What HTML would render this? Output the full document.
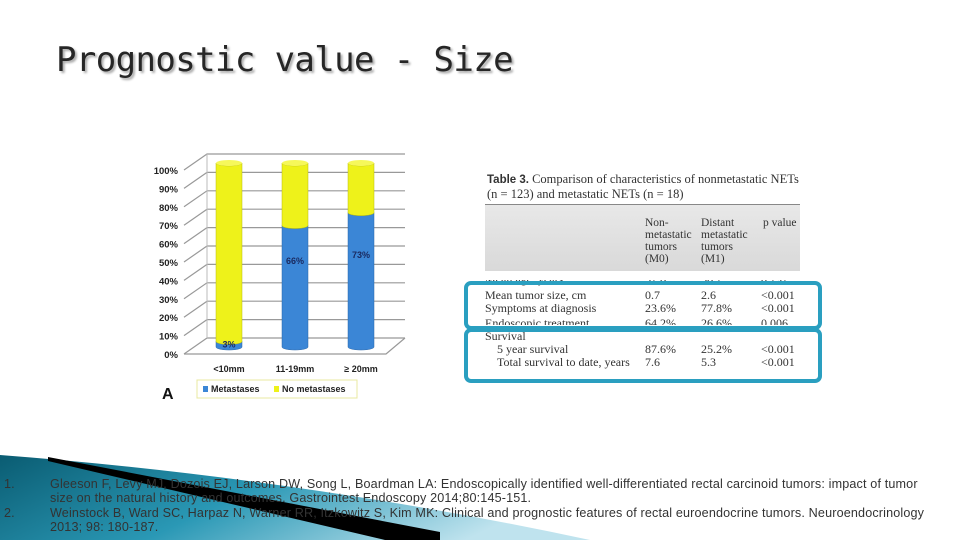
<!DOCTYPE html>
<html><head><meta charset="utf-8">
<style>
html,body{margin:0;padding:0;background:#fff;}
#slide{position:relative;width:960px;height:540px;overflow:hidden;background:#fff;font-family:"Liberation Sans",sans-serif;}
#title{position:absolute;left:56px;top:40px;font-family:"DejaVu Sans Mono",monospace;font-size:34px;color:#262626;text-shadow:2px 2px 2px #aaa;letter-spacing:-0.6px;}
.ref{position:absolute;font-size:12.6px;color:#333;white-space:nowrap;letter-spacing:0.15px;}
.row{position:absolute;left:0;width:315px;font-size:12px;line-height:13px;white-space:nowrap;overflow:hidden;}
.row span{position:absolute;}
.c1{left:160px}.c2{left:216px}.c3{left:276px}
</style></head>
<body>
<div id="slide">
<svg width="960" height="540" style="position:absolute;left:0;top:0">
<defs><linearGradient id="tg" x1="0" y1="0" x2="1" y2="0.3"><stop offset="0" stop-color="#0a5c72"/><stop offset="0.5" stop-color="#2a98b5"/><stop offset="1" stop-color="#bfe3ee"/></linearGradient></defs>
<path d="M0,455 Q300,478 590,540 L0,540 Z" fill="url(#tg)"/>
<path d="M48,457 L440,532 L440,540 L385,540 L48,461 Z" fill="#000"/>
</svg>
<div id="title">Prognostic value - Size</div>

<svg id="chart" width="960" height="540" style="position:absolute;left:0;top:0"></svg>

<div style="position:absolute;left:485px;top:168px;width:315px;height:212px;background:#fff;font-family:'Liberation Serif',serif;color:#333;">
 <div style="position:absolute;left:2px;top:4px;font-size:12.5px;line-height:14px;white-space:nowrap;"><b style="font-family:'Liberation Sans',sans-serif;font-size:11.5px">Table 3.</b> Comparison of characteristics of nonmetastatic NETs<br>(n = 123) and metastatic NETs (n = 18)</div>
 <div style="position:absolute;left:0;top:36px;width:315px;height:66px;background:linear-gradient(#e8e8e8,#d9d9d9);border-top:1px solid #888;">
  <div style="position:absolute;left:160px;top:12px;font-size:11.5px;line-height:12px">Non-<br>metastatic<br>tumors<br>(M0)</div>
  <div style="position:absolute;left:216px;top:12px;font-size:11.5px;line-height:12px">Distant<br>metastatic<br>tumors<br>(M1)</div>
  <div style="position:absolute;left:278px;top:12px;font-size:11.5px;line-height:12px">p value</div>
 </div>
 <div class="row" style="top:112px;height:6px"><div style="margin-top:-7px">Mean age, years<span class="c1">52.6</span><span class="c2">56.2</span><span class="c3">0.292</span></div></div>
 <div class="row" style="top:121px">Mean tumor size, cm<span class="c1">0.7</span><span class="c2">2.6</span><span class="c3">&lt;0.001</span></div>
 <div class="row" style="top:134px">Symptoms at diagnosis<span class="c1">23.6%</span><span class="c2">77.8%</span><span class="c3">&lt;0.001</span></div>
 <div class="row" style="top:151px;height:6px"><div style="margin-top:-2px">Endoscopic treatment<span class="c1">64.2%</span><span class="c2">26.6%</span><span class="c3">0.006</span></div></div>
 <div class="row" style="top:162px">Survival</div>
 <div class="row" style="top:175px">&nbsp;&nbsp;&nbsp;&nbsp;5 year survival<span class="c1">87.6%</span><span class="c2">25.2%</span><span class="c3">&lt;0.001</span></div>
 <div class="row" style="top:188px">&nbsp;&nbsp;&nbsp;&nbsp;Total survival to date, years<span class="c1">7.6</span><span class="c2">5.3</span><span class="c3">&lt;0.001</span></div>
</div>
<div style="position:absolute;left:464px;top:281px;width:350px;height:41px;border:4px solid #2a9fc0;border-radius:7px;"></div>
<div style="position:absolute;left:464px;top:328px;width:350px;height:47px;border:4px solid #2a9fc0;border-radius:7px;"></div>

<div class="ref" style="left:4px;top:477px">1.</div>
<div class="ref" style="left:50px;top:477px">Gleeson F, Levy MJ, Dozois EJ, Larson DW, Song L, Boardman LA: Endoscopically identified well-differentiated rectal carcinoid tumors: impact of tumor</div>
<div class="ref" style="left:50px;top:491px">size on the natural history and outcomes. Gastrointest Endoscopy 2014;80:145-151.</div>
<div class="ref" style="left:4px;top:506px">2.</div>
<div class="ref" style="left:50px;top:506px">Weinstock B, Ward SC, Harpaz N, Warner RR, Itzkowitz S, Kim MK: Clinical and prognostic features of rectal  euroendocrine tumors. Neuroendocrinology</div>
<div class="ref" style="left:50px;top:520px">2013; 98: 180-187.</div>
</div>
<script>
const categories = ["<10mm","11-19mm","\u2265 20mm"];
const metastases = [3,66,73];
const noMetastases = [97,34,27];
const yTicks = [0,10,20,30,40,50,60,70,80,90,100];
const metLabels = ["3%","66%","73%"];

const svg = document.getElementById('chart');
const NS = 'http://www.w3.org/2000/svg';
function mk(tag, attrs, parent){const e=document.createElementNS(NS,tag);for(const k in attrs)e.setAttribute(k,attrs[k]);(parent||svg).appendChild(e);return e;}
const fx0=184, fy0=354, fy100=170, dx=23, dy=-16;
const yFront = v => fy0 - (fy0-fy100)*v/100;
const cy0=347, cy100=163;
const yCyl = v => cy0 - (cy0-cy100)*v/100;
const xCat = i => 229 + i*66;
const cylW=26;

const bg = mk('rect',{x:145,y:148,width:272,height:268,fill:'#fff'});


yTicks.forEach(t=>{
  const y=yFront(t);
  const g=mk('path',{d:`M${fx0},${y} L${fx0+dx},${y+dy} L405,${y+dy}`,stroke:'#999',fill:'none','stroke-width':1.2});
  
  
  const tx=mk('text',{x:178,y:y+4,'text-anchor':'end','font-size':9.5,'font-weight':'bold',fill:'#222','font-family':'Liberation Sans, sans-serif'});
  tx.textContent=t+'%';
  
  
});
const fl=mk('path',{d:`M${fx0},${fy0} L386,${fy0} L405,${fy0+dy}`,stroke:'#999',fill:'none','stroke-width':1.2});


const ax=mk('line',{x1:fx0+dx,y1:fy100+dy,x2:fx0+dx,y2:fy0+dy,stroke:'#bbb'});



function cyl(cx, v0, v1, col, dark, name){
  const l=cx-cylW/2, r=cx+cylW/2, y0=yCyl(v0), y1=yCyl(v1);
  const d=`M${l},${y1} L${l},${y0} A${cylW/2},3 0 0 0 ${r},${y0} L${r},${y1} A${cylW/2},3 0 0 1 ${l},${y1} Z`;
  const p=mk('path',{d,fill:col,stroke:dark,'stroke-width':0.5});
  
  
}
categories.forEach((c,i)=>{
  const cx=xCat(i);
  cyl(cx,0,metastases[i],'#3b86d6','#2a66a8','bar-metastases-'+i);
  cyl(cx,metastases[i],metastases[i]+noMetastases[i],'#eef21a','#b8bb10','bar-no-metastases-'+i);
  const top=mk('ellipse',{cx,cy:yCyl(metastases[i]+noMetastases[i]),rx:cylW/2,ry:3,fill:'#f6f85a'});
  
  
  const lb=mk('text',{x:cx,y:372,'text-anchor':'middle','font-size':9,'font-weight':'bold',fill:'#222','font-family':'Liberation Sans, sans-serif'});
  lb.textContent=c;
  
  
  const vl=mk('text',{x:cx,y:(i===0?yCyl(metastases[i])+6:yCyl(metastases[i]/2+12)),'text-anchor':'middle','font-size':9,'font-weight':'bold',fill:'#1a2a60','font-family':'Liberation Sans, sans-serif'});
  vl.textContent=metLabels[i];
  
  
});
const lg=mk('rect',{x:197,y:380,width:160,height:18,fill:'#fff',stroke:'#e8e8a0'});


[['#3b86d6','Metastases',203],['#eef21a','No metastases',274]].forEach(([c,t,x])=>{
  const s=mk('rect',{x,y:386,width:5,height:6,fill:c});
  
  
  const tx=mk('text',{x:x+8,y:392,'font-size':9,'font-weight':'bold',fill:'#222','font-family':'Liberation Sans, sans-serif'});
  tx.textContent=t;
  
  
});
const A=mk('text',{x:162,y:399,'font-size':16,'font-weight':'bold',fill:'#111','font-family':'Liberation Sans, sans-serif'});
A.textContent='A';


</script>
</body></html>
